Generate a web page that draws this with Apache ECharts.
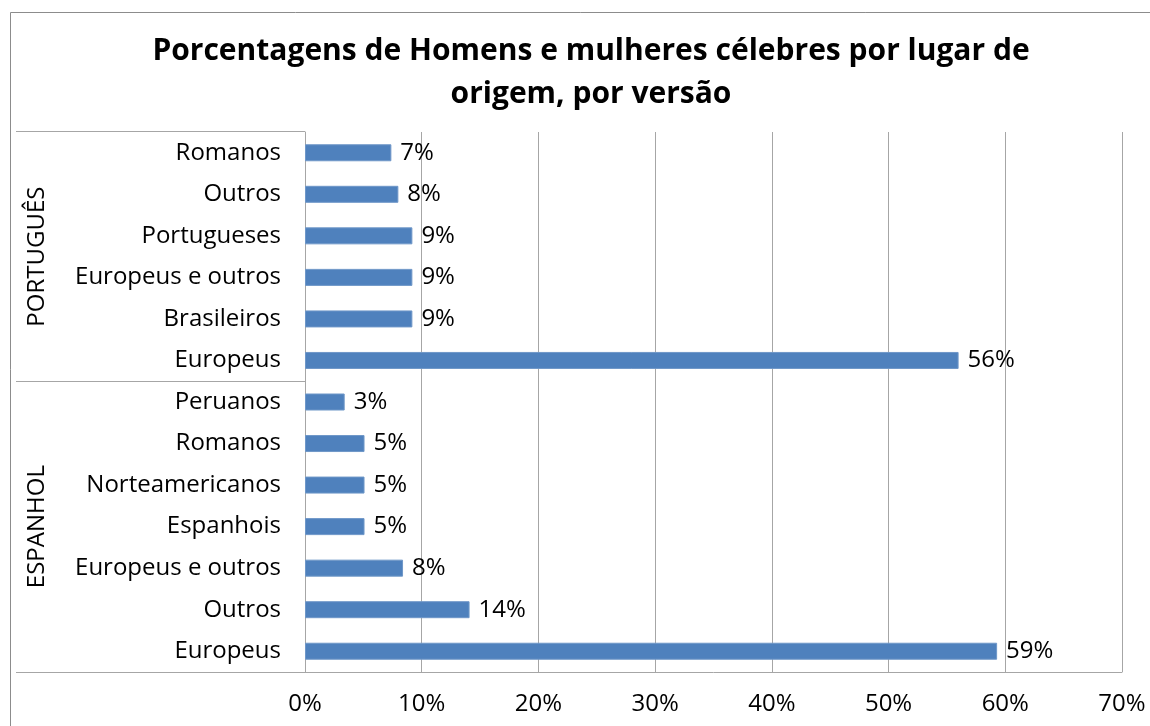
<!DOCTYPE html>
<html>
<head>
<meta charset="utf-8">
<script src="https://cdn.jsdelivr.net/npm/echarts@6/dist/echarts.min.js"></script>
<style>
  html, body { margin: 0; padding: 0; background: #fff; }
  #chart_example { width: 1150px; height: 726px; }
</style>
</head>
<body>
<div id="chart_example"></div>
<script>
  // categorias de cima para baixo
  var categorias = ['Romanos', 'Outros', 'Portugueses', 'Europeus e outros', 'Brasileiros', 'Europeus',
    'Peruanos', 'Romanos ', 'Norteamericanos', 'Espanhois', 'Europeus e outros ', 'Outros ', 'Europeus'];
  var valores = [7.4, 8.0, 9.2, 9.2, 9.2, 56.0, 3.4, 5.1, 5.1, 5.1, 8.4, 14.1, 59.3];
  var grupos = ['PORTUGUÊS', 'ESPANHOL'];
  var tamanhoGrupo = [6, 7];
  var ticksX = [0, 10, 20, 30, 40, 50, 60, 70];

  var fonte = '"Open Sans", "Noto Sans", sans-serif';
  var myChart = echarts.init(document.getElementById('chart_example'));
  var option = {
    backgroundColor: '#fff',
    animation: false,
    title: {
      text: 'Porcentagens de Homens e mulheres célebres por lugar de\norigem, por versão',
      left: 586,
      top: 25,
      textAlign: 'center',
      textStyle: {
        color: '#000',
        fontFamily: fonte,
        fontSize: 30,
        fontWeight: 'bold',
        lineHeight: 43
      }
    },
    grid: {
      left: 305,
      right: 28,
      top: 132,
      bottom: 54
    },
    xAxis: {
      type: 'value',
      min: ticksX[0],
      max: ticksX[ticksX.length - 1],
      interval: 10,
      axisLabel: {
        formatter: '{value}%',
        color: '#000',
        fontFamily: fonte,
        fontSize: 24,
        margin: 20
      },
      axisLine: { show: true, lineStyle: { color: '#a6a6a6', width: 1 } },
      axisTick: { show: false },
      splitLine: { show: true, lineStyle: { color: '#a6a6a6', width: 1 } }
    },
    yAxis: {
      type: 'category',
      inverse: true,
      data: categorias,
      axisLabel: {
        color: '#000',
        fontFamily: fonte,
        fontSize: 24,
        margin: 24,
        padding: [3, 0, 0, 0],
        formatter: function (v) { return v.trim(); }
      },
      axisLine: { show: true, lineStyle: { color: '#a6a6a6', width: 1 } },
      axisTick: { show: false }
    },
    series: [{
      type: 'bar',
      data: valores,
      barWidth: 17,
      itemStyle: { color: '#4f81bd', borderColor: '#6f97c8', borderWidth: 1 },
      label: {
        show: true,
        position: 'right',
        distance: 9,
        color: '#000',
        fontFamily: fonte,
        fontSize: 24,
        padding: [3, 0, 0, 0],
        formatter: function (p) { return Math.round(p.value) + '%'; }
      }
    }]
  };
  myChart.setOption(option);

  // linhas e rótulos dos grupos, a partir das posições das categorias
  var xEixo = myChart.convertToPixel({ gridIndex: 0 }, [0, 0])[0];
  var yTopo = 131;
  var passo = myChart.convertToPixel({ yAxisIndex: 0 }, 1) - myChart.convertToPixel({ yAxisIndex: 0 }, 0);
  var grafico = [{
    type: 'rect',
    shape: { x: 10.5, y: 12.5, width: 1300, height: 900 },
    style: { fill: 'none', stroke: '#8c8c8c', lineWidth: 1 },
    silent: true
  }];
  var inicio = 0;
  var limites = [yTopo];
  grupos.forEach(function (g, i) {
    var fim = inicio + tamanhoGrupo[i] - 1;
    var y0 = myChart.convertToPixel({ yAxisIndex: 0 }, inicio) - passo / 2;
    var y1 = myChart.convertToPixel({ yAxisIndex: 0 }, fim) + passo / 2;
    limites.push(y1);
    grafico.push({
      type: 'text',
      x: 37,
      y: (y0 + y1) / 2,
      rotation: Math.PI / 2,
      style: {
        text: g,
        fill: '#000',
        font: '24px ' + fonte,
        textAlign: 'center',
        textVerticalAlign: 'middle'
      },
      silent: true
    });
    inicio = fim + 1;
  });
  limites.forEach(function (y) {
    var yy = Math.round(y) + 0.5;
    grafico.push({
      type: 'line',
      shape: { x1: 16, y1: yy, x2: xEixo, y2: yy },
      style: { stroke: '#a6a6a6', lineWidth: 1 },
      silent: true
    });
  });
  myChart.setOption({ graphic: grafico });

  window.addEventListener('resize', function () { myChart.resize(); });
</script>
</body>
</html>
